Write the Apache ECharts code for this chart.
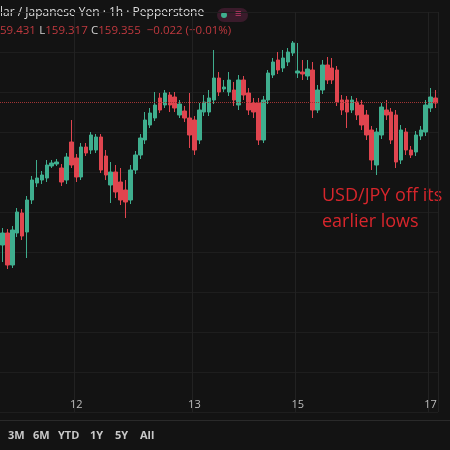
<!DOCTYPE html>
<html>
<head>
<meta charset="utf-8">
<script src="https://cdn.jsdelivr.net/npm/echarts@6/dist/echarts.min.js"></script>
<style>
  html, body { margin: 0; padding: 0; background: #131313; }
  #chart { width: 450px; height: 450px; }
</style>
</head>
<body>
<div id="chart"></div>
<script>
// hourly candles
var openP = [158.635,158.695,158.535,158.695,158.795,158.70,158.86,158.945,158.96,158.97,159.03,159.04,159.02,158.96,159.15,159.07,158.975,159.125,159.11,159.11,159.175,159.08,158.935,159.00,158.95,158.91,158.86,159.01,159.085,159.16,159.235,159.27,159.37,159.335,159.385,159.375,159.285,159.305,159.27,159.26,159.16,159.30,159.30,159.36,159.47,159.415,159.40,159.41,159.335,159.46,159.395,159.345,159.345,159.16,159.36,159.485,159.56,159.52,159.55,159.595,159.495,159.50,159.48,159.51,159.31,159.41,159.535,159.52,159.51,159.36,159.36,159.31,159.35,159.335,159.285,159.21,159.035,159.185,159.31,159.30,159.285,159.06,159.20,159.11,159.10,159.18,159.20,159.32,159.37];
var closeP = [158.695,158.535,158.71,158.80,158.68,158.86,158.96,158.97,158.985,159.035,159.045,159.05,158.95,159.075,159.035,158.975,159.125,159.095,159.185,159.175,159.01,158.985,159.00,158.90,158.86,158.85,159.01,159.085,159.17,159.26,159.295,159.335,159.31,159.395,159.335,159.32,159.34,159.27,159.185,159.11,159.31,159.35,159.37,159.47,159.40,159.425,159.46,159.36,159.46,159.385,159.31,159.30,159.16,159.36,159.495,159.55,159.51,159.57,159.60,159.645,159.505,159.49,159.515,159.31,159.41,159.535,159.46,159.46,159.35,159.31,159.30,159.36,159.285,159.235,159.185,159.06,159.20,159.325,159.285,159.16,159.05,159.21,159.11,159.085,159.185,159.21,159.335,159.375,159.345];
var lowP = [158.55,158.515,158.52,158.675,158.66,158.57,158.84,158.925,158.94,158.95,159.02,159.03,158.93,158.94,159.02,158.95,158.96,159.08,159.09,159.095,158.995,158.96,158.845,158.87,158.835,158.77,158.84,158.99,159.065,159.14,159.22,159.255,159.295,159.32,159.30,159.30,159.27,159.25,159.12,159.085,159.14,159.28,159.28,159.34,159.38,159.40,159.38,159.33,159.31,159.36,159.285,159.27,159.135,159.145,159.34,159.47,159.49,159.50,159.53,159.58,159.47,159.46,159.46,159.27,159.295,159.39,159.44,159.44,159.33,159.285,159.22,159.295,159.26,159.21,159.16,159.01,158.985,159.165,159.26,159.14,159.02,159.04,159.085,159.07,159.08,159.16,159.18,159.30,159.32];
var highP = [158.72,158.715,158.73,158.82,158.815,158.88,158.98,159.06,159.005,159.06,159.06,159.065,159.04,159.095,159.26,159.09,159.145,159.145,159.20,159.19,159.19,159.11,159.05,159.035,159.02,158.96,159.035,159.105,159.19,159.30,159.32,159.40,159.395,159.41,159.40,159.40,159.36,159.33,159.395,159.28,159.345,159.385,159.41,159.61,159.50,159.46,159.50,159.45,159.485,159.48,159.42,159.37,159.37,159.38,159.51,159.57,159.60,159.61,159.62,159.655,159.645,159.56,159.56,159.55,159.435,159.56,159.575,159.57,159.53,159.385,159.38,159.38,159.37,159.36,159.31,159.23,159.22,159.345,159.36,159.32,159.31,159.235,159.22,159.13,159.205,159.23,159.36,159.42,159.41];
var lastPrice = 159.355;
// category index -> day label
var dayLabels = { 15: '12', 39: '13', 60: '15', 87: '17' };
var rangeButtons = ['3M', '6M', 'YTD', '1Y', '5Y', 'All'];

var cats = [];
var candles = [];
for (var i = 0; i < openP.length; i++) {
    cats.push(dayLabels[i] || '');
    candles.push([openP[i], closeP[i], lowP[i], highP[i]]);
}

var btnText = [];
var bx = 8;
for (var j = 0; j < rangeButtons.length; j++) {
    btnText.push({
        type: 'text', left: bx, top: 430,
        style: { text: rangeButtons[j], fill: '#c8c8c8', font: 'bold 11px "Open Sans"' }
    });
    bx += rangeButtons[j].length * 7 + 11;
}

var chart = echarts.init(document.getElementById('chart'));
chart.setOption({
    backgroundColor: '#131313',
    animation: false,
    grid: { left: 0, right: 12, top: 12, height: 400 },
    xAxis: {
        type: 'category',
        data: cats,
        axisLine: { show: false },
        axisTick: { show: false },
        axisLabel: {
            inside: true, margin: 2, color: '#bdbdbd', fontSize: 11,
            fontFamily: 'Open Sans',
            interval: function (idx) { return !!dayLabels[idx]; }
        },
        splitLine: {
            show: true,
            interval: function (idx) { return !!dayLabels[idx]; },
            lineStyle: { color: '#222' }
        }
    },
    yAxis: {
        type: 'value', min: 157.8, max: 159.8, interval: 0.2,
        axisLabel: { show: false },
        axisLine: { show: false },
        splitLine: { lineStyle: { color: '#1e1e1e' } }
    },
    series: [{
        type: 'candlestick',
        data: candles,
        barWidth: 4,
        itemStyle: {
            color: '#3fae8e', color0: '#e0454f',
            borderColor: '#3fae8e', borderColor0: '#e0454f', borderWidth: 1
        },
        markLine: {
            symbol: 'none', silent: true, label: { show: false },
            lineStyle: { color: '#a03434', type: 'dotted', width: 1 },
            data: [{ yAxis: lastPrice }]
        }
    }],
    graphic: [
        { type: 'rect', shape: { x: 0, y: 420, width: 450, height: 1 }, style: { fill: '#2a2a2a' } },
        { type: 'text', left: 0, top: 7, style: { text: 'lar / Japanese Yen · 1h · Pepperstone', fill: '#dcdcdc', font: '12px "Open Sans"' } },
        { type: 'rect', shape: { x: 217, y: 8, width: 31, height: 14, r: 7 }, style: { fill: '#3a1b2b' } },
        { type: 'circle', shape: { cx: 224, cy: 15, r: 3 }, style: { fill: '#3fae8e' } },
        { type: 'text', left: 235, top: 8, style: { text: '≡', fill: '#c03a6a', font: '11px sans-serif' } },
        { type: 'text', left: 0, top: 25, style: {
            rich: { r: { fill: '#c0393f', font: '11.5px "Open Sans"' }, g: { fill: '#cfcfcf', font: '11.5px "Open Sans"' } },
            text: '{r|59.431} {g|L}{r|159.317} {g|C}{r|159.355  −0.022 (−0.01%)}'
        } },
        { type: 'text', left: 322, top: 183, style: { text: 'USD/JPY off its\nearlier lows', fill: '#d8262c', font: '18px "Open Sans"', lineHeight: 26 } }
    ].concat(btnText)
});
</script>
</body>
</html>
